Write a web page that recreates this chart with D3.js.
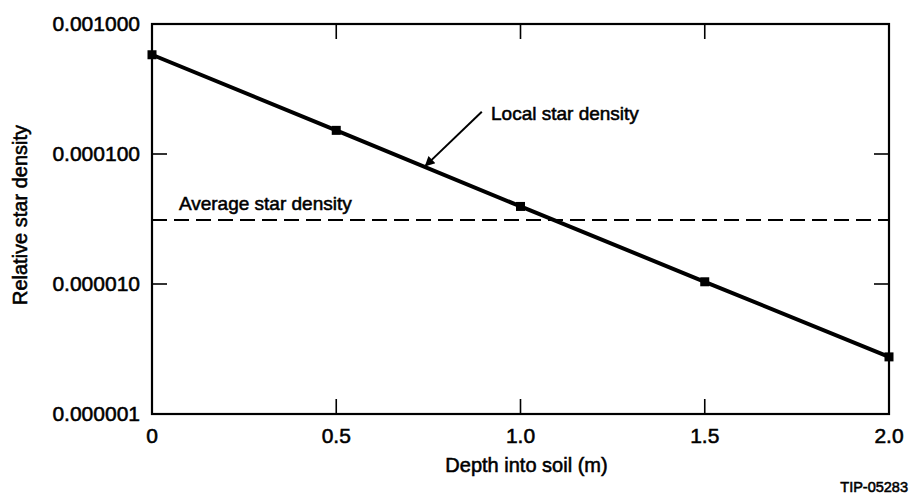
<!DOCTYPE html>
<html>
<head>
<meta charset="utf-8">
<script src="https://cdn.jsdelivr.net/npm/d3@7"></script>
<style>
  html, body { margin: 0; padding: 0; background: #fff; }
  text { font-family: "Liberation Sans", Arial, Helvetica, sans-serif; fill: #000; stroke: #000; stroke-width: 0.55px; }
</style>
</head>
<body>
<div id="chart"></div>
<script>
// values
var depth = [0, 0.5, 1.0, 1.5, 2.0];
var localDensity = [5.8e-4, 1.52e-4, 3.95e-5, 1.04e-5, 2.75e-6];
var averageDensity = 3.1e-5;

var xTicks = [0, 0.5, 1.0, 1.5, 2.0];
var xTickLabels = ["0", "0.5", "1.0", "1.5", "2.0"];
var yTicks = [1e-6, 1e-5, 1e-4, 1e-3];
var yTickLabels = ["0.000001", "0.000010", "0.000100", "0.001000"];

var W = 915, H = 494;
var plotLeft = 152, plotRight = 889, plotTop = 24, plotBottom = 414;
var tick = 15;

var svg = d3.select("#chart").append("svg").attr("width", W).attr("height", H);

var x = d3.scaleLinear().domain([0, 2]).range([plotLeft, plotRight]);
var y = d3.scaleLog().domain([1e-6, 1e-3]).range([plotBottom, plotTop]);

// frame
svg.append("rect")
    .attr("x", plotLeft).attr("y", plotTop)
    .attr("width", plotRight - plotLeft).attr("height", plotBottom - plotTop)
    .attr("fill", "none").attr("stroke", "#000").attr("stroke-width", 2.2);

// ticks, all pointing inwards
var g = svg.append("g").attr("stroke", "#000").attr("stroke-width", 1.6);
xTicks.slice(1, -1).forEach(function(d){
    g.append("line").attr("x1", x(d)).attr("x2", x(d)).attr("y1", plotBottom).attr("y2", plotBottom - tick);
    g.append("line").attr("x1", x(d)).attr("x2", x(d)).attr("y1", plotTop).attr("y2", plotTop + tick);
});
yTicks.slice(1, -1).forEach(function(d){
    g.append("line").attr("x1", plotLeft).attr("x2", plotLeft + tick).attr("y1", y(d)).attr("y2", y(d));
    g.append("line").attr("x1", plotRight).attr("x2", plotRight - tick).attr("y1", y(d)).attr("y2", y(d));
});

// tick labels
svg.selectAll(".xl").data(xTicks).enter().append("text")
    .attr("x", function(d){ return x(d); })
    .attr("y", plotBottom + 29)
    .attr("text-anchor", "middle")
    .style("font-size", "21px")
    .text(function(d, i){ return xTickLabels[i]; });

svg.selectAll(".yl").data(yTicks).enter().append("text")
    .attr("x", plotLeft - 12)
    .attr("y", function(d){ return y(d) + 7; })
    .attr("text-anchor", "end")
    .style("font-size", "21px")
    .text(function(d, i){ return yTickLabels[i]; });

// axis titles
svg.append("text")
    .attr("x", (plotLeft + plotRight) / 2 + 6).attr("y", 472)
    .attr("text-anchor", "middle")
    .style("font-size", "20px")
    .text("Depth into soil (m)");

svg.append("text")
    .attr("transform", "translate(27," + 215 + ") rotate(-90)")
    .attr("text-anchor", "middle")
    .style("font-size", "20px")
    .text("Relative star density");

// average density dashed line
svg.append("line")
    .attr("x1", plotLeft).attr("x2", plotRight)
    .attr("y1", y(averageDensity)).attr("y2", y(averageDensity))
    .attr("stroke", "#000").attr("stroke-width", 2)
    .attr("stroke-dasharray", "15,7");

svg.append("text")
    .attr("x", x(0.073)).attr("y", y(averageDensity) - 10)
    .style("font-size", "19px")
    .text("Average star density");

// local density line + markers
var line = d3.line()
    .x(function(d, i){ return x(depth[i]); })
    .y(function(d){ return y(d); });

svg.append("path")
    .datum(localDensity)
    .attr("d", line)
    .attr("fill", "none").attr("stroke", "#000").attr("stroke-width", 4);

svg.selectAll(".mk").data(localDensity).enter().append("rect")
    .attr("x", function(d, i){ return x(depth[i]) - 4.5; })
    .attr("y", function(d){ return y(d) - 4.5; })
    .attr("width", 9).attr("height", 9)
    .attr("fill", "#000");

// annotation arrow
svg.append("defs").append("marker")
    .attr("id", "ah").attr("viewBox", "0 0 10 10")
    .attr("refX", 9).attr("refY", 5)
    .attr("markerWidth", 17).attr("markerHeight", 10)
    .attr("markerUnits", "userSpaceOnUse")
    .attr("orient", "auto")
    .append("path").attr("d", "M0,0 L10,5 L0,10 z").attr("fill", "#000");

svg.append("line")
    .attr("x1", x(0.895)).attr("y1", y(2.11e-4))
    .attr("x2", x(0.742)).attr("y2", y(8.1e-5))
    .attr("stroke", "#000").attr("stroke-width", 2)
    .attr("marker-end", "url(#ah)");

svg.append("text")
    .attr("x", x(0.92)).attr("y", y(2.07e-4) + 7)
    .style("font-size", "19px")
    .text("Local star density");

svg.append("text")
    .attr("x", 908).attr("y", 492)
    .attr("text-anchor", "end")
    .style("font-size", "14.5px")
    .text("TIP-05283");
</script>
</body>
</html>
